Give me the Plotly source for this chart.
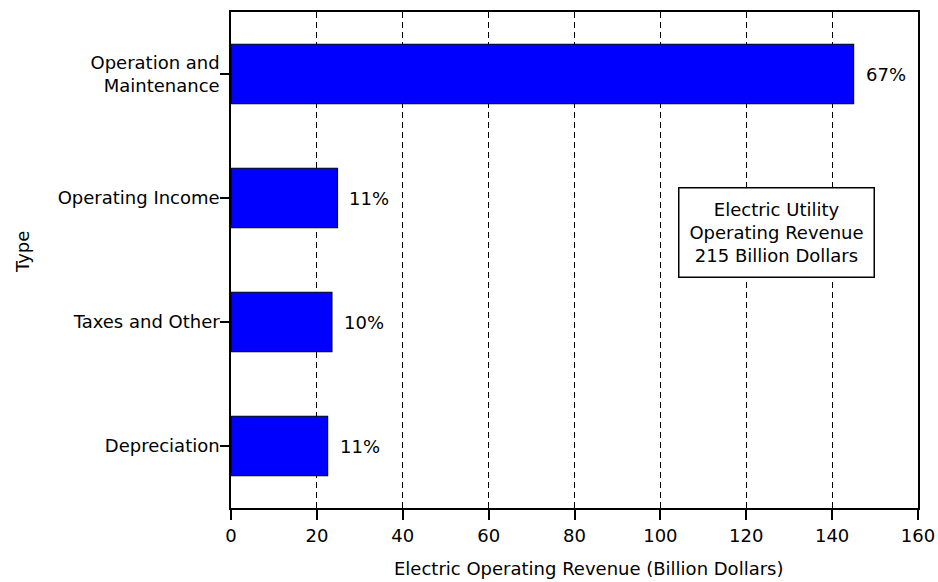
import plotly.graph_objects as go

categories = ["Operation and<br>Maintenance", "Operating Income", "Taxes and Other", "Depreciation"]
values = [145.0, 24.8, 23.5, 22.5]
pct_labels = ["67%", "11%", "10%", "11%"]
x_ticks = [0, 20, 40, 60, 80, 100, 120, 140, 160]

FONT = "DejaVu Sans"
FS = 18
W, H = 938, 582
ML, MR, MT, MB = 231, 20, 12, 74
PW = W - ML - MR
PH = H - MT - MB

fig = go.Figure()
fig.add_trace(go.Bar(
    y=categories, x=values, orientation="h",
    marker=dict(color="#0000FF", line=dict(color="black", width=1.2)),
    width=0.48, showlegend=False, hoverinfo="skip",
))

for c, v, t in zip(categories, values, pct_labels):
    fig.add_annotation(x=v, y=c, text=t, showarrow=False, xanchor="left",
                       xshift=10, font=dict(family=FONT, size=FS, color="black"))

# info box
fig.add_annotation(
    x=(776.5 - ML) / PW, y=(MT + PH - 232) / PH, xref="paper", yref="paper",
    text="Electric Utility<br>Operating Revenue<br>215 Billion Dollars",
    showarrow=False, align="center", xanchor="center", yanchor="middle",
    width=186, height=80,
    bordercolor="black", borderwidth=1.5, borderpad=4, bgcolor="white",
    font=dict(family=FONT, size=FS, color="black"),
)

# axis titles
fig.add_annotation(
    x=(588 - ML) / PW, y=(MT + PH - 568) / PH, xref="paper", yref="paper",
    text="Electric Operating Revenue (Billion Dollars)", showarrow=False,
    xanchor="center", yanchor="middle", font=dict(family=FONT, size=FS, color="black"),
)
fig.add_annotation(
    x=(22 - ML) / PW, y=(MT + PH - 252) / PH, xref="paper", yref="paper",
    text="Type", textangle=-90, showarrow=False,
    xanchor="center", yanchor="middle", font=dict(family=FONT, size=FS, color="black"),
)

fig.update_xaxes(
    range=[0, 160], tickvals=x_ticks, ticktext=[str(v) for v in x_ticks],
    showline=True, linecolor="black", linewidth=1.5, mirror=True,
    ticks="outside", ticklen=10, tickcolor="black", tickwidth=1.5,
    ticklabelstandoff=1,
    showgrid=True, gridcolor="black", gridwidth=1.3, griddash="6px,4px",
    zeroline=False, automargin=False,
    tickfont=dict(family=FONT, size=FS, color="black"),
)
fig.update_yaxes(
    categoryorder="array", categoryarray=categories[::-1],
    range=[-0.5, 3.5],
    showline=True, linecolor="black", linewidth=1.5, mirror=True,
    ticks="outside", ticklen=9, tickcolor="black", tickwidth=1.5,
    ticklabelstandoff=-3,
    showgrid=False, zeroline=False, automargin=False,
    tickfont=dict(family=FONT, size=FS, color="black"),
)

fig.update_layout(
    width=W, height=H,
    margin=dict(l=ML, r=MR, t=MT, b=MB),
    plot_bgcolor="white", paper_bgcolor="white",
    bargap=0.5,
)

fig.write_html("out.html")
